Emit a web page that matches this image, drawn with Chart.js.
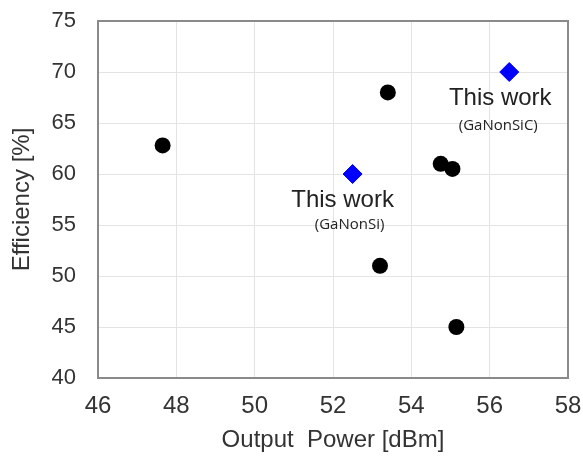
<!DOCTYPE html>
<html>
<head>
<meta charset="utf-8">
<script src="https://cdn.jsdelivr.net/npm/chart.js@4"></script>
<style>
  html, body { margin: 0; padding: 0; background: #fff; }
  #wrap { width: 583px; height: 459px; }
</style>
</head>
<body>
<div id="wrap"><canvas id="chartCanvas" width="583" height="459"></canvas></div>
<script>
// other works (black dots)
const otherPower = [47.65, 53.4, 54.75, 55.05, 53.2, 55.15];
const otherEff = [62.8, 68.0, 61.0, 60.5, 51.0, 45.0];
// this work (blue diamonds)
const workPower = [56.5, 52.5];
const workEff = [70.0, 60.0];
const workLabels = ["This work", "This work"];
const workSubs = ["(GaNonSiC)", "(GaNonSi)"];
const xTicks = [46, 48, 50, 52, 54, 56, 58];
const yTicks = [40, 45, 50, 55, 60, 65, 70, 75];

// label offsets from the diamond, px
const labelDx = [-9, -10], labelDy = [26, 26];
const subDx = [-11, -3], subDy = [54, 51];

const ctx = document.getElementById("chartCanvas").getContext("2d");

const frame = {
    id: "frame",
    beforeDatasetsDraw(chart) {
        const a = chart.chartArea, c = chart.ctx;
        c.save();
        c.strokeStyle = "#8a8a8a";
        c.lineWidth = 2;
        c.strokeRect(a.left, a.top, a.right - a.left, a.bottom - a.top);
        c.restore();
    }
};

const thisWork = {
    id: "thisWork",
    afterDatasetsDraw(chart) {
        const c = chart.ctx, x = chart.scales.x, y = chart.scales.y;
        c.save();
        c.textAlign = "center";
        c.textBaseline = "middle";
        c.fillStyle = "#222";
        workPower.forEach((p, i) => {
            const px = x.getPixelForValue(p), py = y.getPixelForValue(workEff[i]);
            c.font = '24px "Liberation Sans", Arial, sans-serif';
            c.fillText(workLabels[i], px + labelDx[i], py + labelDy[i]);
            c.font = '15px "Open Sans", sans-serif';
            c.fillText(workSubs[i], px + subDx[i], py + subDy[i]);
        });
        c.restore();
    }
};

const chart = new Chart(ctx, {
    type: "scatter",
    data: {
        datasets: [{
            label: "Other works",
            data: otherPower.map((p, i) => ({ x: p, y: otherEff[i] })),
            pointRadius: 8,
            pointBackgroundColor: "#000",
            pointBorderWidth: 0
        }, {
            label: "This work",
            data: workPower.map((p, i) => ({ x: p, y: workEff[i] })),
            pointStyle: "rectRot",
            pointRadius: 9.5,
            pointBackgroundColor: "#0000ff",
            pointBorderColor: "#0000ff",
            pointBorderWidth: 1
        }]
    },
    options: {
        responsive: false,
        animation: false,
        layout: { padding: { top: 21, right: 15, left: 0, bottom: 0 } },
        plugins: { legend: { display: false }, tooltip: { enabled: false } },
        scales: {
            x: {
                type: "linear",
                min: 46, max: 58,
                afterBuildTicks: s => { s.ticks = xTicks.map(v => ({ value: v })); },
                afterFit: s => {
                    s.height = 81;
                    s.paddingLeft = 0; s.paddingRight = 0;
                },
                grid: { color: "#e4e4e4", drawTicks: false },
                border: { display: false },
                ticks: {
                    padding: 14,
                    color: "#333",
                    font: { family: '"Liberation Sans", Arial, sans-serif', size: 24 }
                },
                title: {
                    display: true,
                    text: "Output  Power [dBm]",
                    color: "#333",
                    padding: { top: 0, bottom: 4 },
                    font: { family: '"Liberation Sans", Arial, sans-serif', size: 24 }
                }
            },
            y: {
                min: 40, max: 75,
                afterBuildTicks: s => { s.ticks = yTicks.map(v => ({ value: v })); },
                afterFit: s => {
                    s.width = 98;
                    s.paddingTop = 0; s.paddingBottom = 0;
                },
                grid: { color: "#e4e4e4", drawTicks: false },
                border: { display: false },
                ticks: {
                    padding: 22,
                    color: "#333",
                    font: { family: '"Liberation Sans", Arial, sans-serif', size: 22 }
                },
                title: {
                    display: true,
                    text: "Efficiency [%]",
                    color: "#333",
                    padding: { top: 8, bottom: 0 },
                    font: { family: '"Liberation Sans", Arial, sans-serif', size: 24 }
                }
            }
        }
    },
    plugins: [frame, thisWork]
});
</script>
</body>
</html>
